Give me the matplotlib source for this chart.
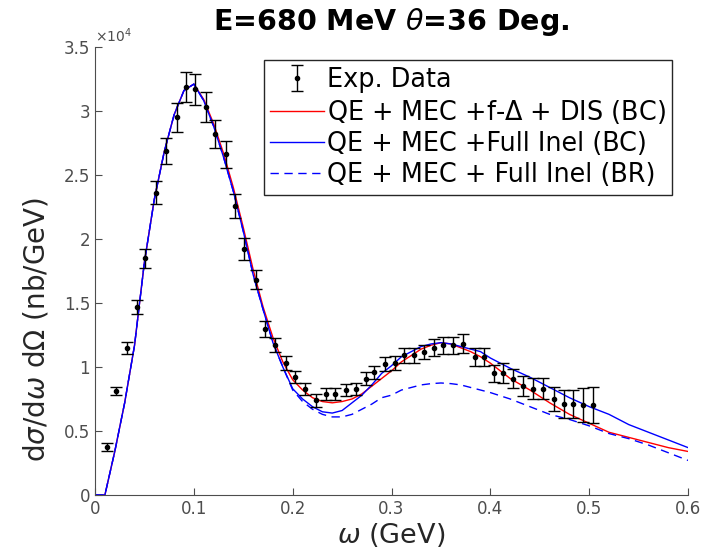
import matplotlib.pyplot as plt
import numpy as np

# experimental points (omega in GeV, cross section in nb/GeV)
exp_omega = [0.012, 0.021, 0.032, 0.042, 0.051, 0.062, 0.072, 0.083, 0.092, 0.101,
             0.112, 0.121, 0.133, 0.142, 0.151, 0.163, 0.172, 0.182, 0.193, 0.202,
             0.212, 0.224, 0.234, 0.243, 0.254, 0.264, 0.274, 0.282, 0.293, 0.303,
             0.313, 0.323, 0.333, 0.343, 0.352, 0.362, 0.372, 0.384, 0.394, 0.404,
             0.413, 0.423, 0.433, 0.443, 0.453, 0.464, 0.474, 0.484, 0.494, 0.504]
exp_xs = [3750, 8100, 11500, 14700, 18500, 23600, 26900, 29500, 31900, 31700,
          30300, 28200, 26600, 22600, 19200, 16800, 13000, 11700, 10300, 9200,
          8300, 7400, 7900, 7900, 8200, 8300, 9100, 9600, 10200, 10300,
          10900, 10900, 11200, 11500, 11700, 11700, 11800, 10800, 10800, 9500,
          9500, 9100, 8500, 8300, 8300, 7500, 7100, 7100, 7000, 7000]
exp_err = [300, 320, 470, 550, 740, 900, 1020, 1130, 1170, 1210,
           1170, 1130, 1020, 940, 860, 740, 620, 550, 550, 470,
           470, 510, 470, 470, 470, 470, 510, 510, 550, 550,
           550, 550, 550, 660, 660, 660, 740, 700, 700, 660,
           780, 780, 780, 820, 820, 940, 1090, 1090, 1330, 1410]

# model curves
om = [0.0, 0.01, 0.02, 0.03, 0.04, 0.05, 0.06, 0.07, 0.08, 0.09,
      0.10, 0.11, 0.12, 0.13, 0.14, 0.15, 0.16, 0.17, 0.18, 0.19,
      0.20, 0.21, 0.22, 0.23, 0.24, 0.25, 0.26, 0.27, 0.28, 0.29,
      0.30, 0.31, 0.32, 0.33, 0.34, 0.35, 0.36, 0.37, 0.38, 0.39,
      0.40, 0.42, 0.44, 0.46, 0.48, 0.50, 0.52, 0.54, 0.56, 0.58, 0.60]
full_bc = [0, 0, 3400, 7200, 11700, 18200, 23100, 26800, 29700, 31600,
           32100, 30800, 28800, 26400, 23700, 20600, 17200, 14500, 11900, 10000,
           8300, 7500, 6900, 6500, 6400, 6600, 7200, 7800, 8600, 9500,
           10100, 10800, 11200, 11600, 11800, 11900, 11800, 11600, 11400, 11200,
           10700, 9900, 9200, 8400, 7600, 6900, 6300, 5500, 4900, 4300, 3700]
fdelta_dis = [0, 0, 3400, 7200, 11700, 18200, 23100, 26800, 29700, 31600,
              32100, 30900, 29000, 26700, 24000, 20900, 17600, 14700, 12300, 10400,
              9000, 8200, 7600, 7300, 7200, 7300, 7500, 7900, 8500, 9100,
              9700, 10400, 10900, 11400, 11700, 11900, 11800, 11500, 11200, 10800,
              10300, 9100, 8200, 7200, 6300, 5600, 4900, 4500, 4100, 3700, 3400]
full_br = [0, 0, 3400, 7200, 11700, 18200, 23100, 26800, 29700, 31600,
           32100, 30800, 28800, 26400, 23700, 20600, 17200, 14500, 11900, 10000,
           8200, 7300, 6700, 6300, 6100, 6100, 6300, 6700, 7100, 7600,
           7800, 8200, 8400, 8600, 8700, 8750, 8700, 8600, 8400, 8200,
           8000, 7500, 6900, 6300, 5900, 5400, 4800, 4400, 3900, 3300, 2700]

x_ticks = [0, 0.1, 0.2, 0.3, 0.4, 0.5, 0.6]
y_ticks = [0, 5000, 10000, 15000, 20000, 25000, 30000, 35000]

plt.rcParams['font.family'] = 'DejaVu Sans'
fig = plt.figure(figsize=(7.16, 5.59), dpi=100)
ax = fig.add_axes([0.1327, 0.1145, 0.8283, 0.8015])

ax.plot(om, fdelta_dis, color='#ff0000', lw=1.0, label=r'QE + MEC +f-$\Delta$ + DIS (BC)')
ax.plot(om, full_bc, color='#0000ff', lw=1.0, label='QE + MEC +Full Inel (BC)')
ax.plot(om, full_br, color='#0000ff', lw=1.0, ls=(0, (6, 4)), label='QE + MEC + Full Inel (BR)')
ax.errorbar(exp_omega, exp_xs, yerr=exp_err, fmt='.', color='black', ms=6,
            elinewidth=1.0, capsize=4, capthick=1.0, label='Exp. Data')

ax.set_xlim(0, 0.6)
ax.set_ylim(0, 35000)
ax.set_xticks(x_ticks)
ax.set_xticklabels(['%g' % v for v in x_ticks])
ax.set_yticks(y_ticks)
ax.set_yticklabels(['%g' % (v / 1e4) for v in y_ticks])
ax.text(0.0, 1.005, r'$\times10^4$', transform=ax.transAxes, fontsize=10,
        color='#4d4d4d', ha='left', va='bottom')

ax.spines['top'].set_visible(False)
ax.spines['right'].set_visible(False)
for s in ['left', 'bottom']:
    ax.spines[s].set_color('#4d4d4d')
ax.tick_params(direction='in', length=5, colors='#4d4d4d', labelsize=12)

ax.set_xlabel(r'$\omega$ (GeV)', fontsize=19.5, color='#262626', labelpad=2)
ax.set_ylabel(r'd$\sigma$/d$\omega$ d$\Omega$ (nb/GeV)', fontsize=20, color='#262626')
ax.yaxis.set_label_coords(-0.075, 0.37)
ax.set_title(r'E=680 MeV $\theta$=36 Deg.', fontsize=20.5, fontweight='bold', pad=12)

h, l = ax.get_legend_handles_labels()
order = [3, 0, 1, 2]
leg = ax.legend([h[i] for i in order], [l[i] for i in order], loc='upper right',
                bbox_to_anchor=(0.9725, 0.97), fontsize=18.4, fancybox=False,
                edgecolor='#262626', framealpha=1, handlelength=2.1,
                handletextpad=0.1, borderpad=0.25, labelspacing=0.2, borderaxespad=0)
leg.get_frame().set_linewidth(1.0)

fig.savefig('out.png', dpi=100)
